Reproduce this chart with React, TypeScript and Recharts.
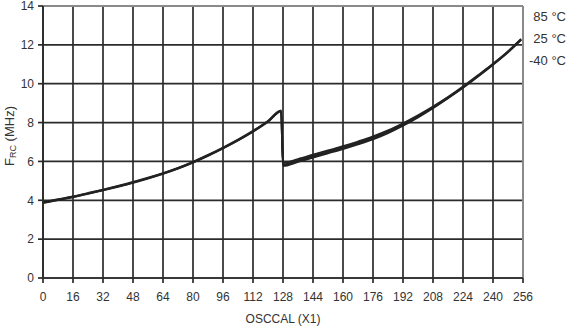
import React from "react";
import {
  CartesianGrid,
  Line,
  LineChart,
  ReferenceLine,
  XAxis,
  YAxis,
} from "recharts";

const osccal = [
  0, 8, 16, 24, 32, 40, 48, 56, 64, 72, 80, 88, 96, 104, 112, 120, 127,
  128, 136, 144, 152, 160, 168, 176, 184, 192, 200, 208, 216, 224, 232, 240, 248, 255,
];

const freq85 = [
  3.86, 4.01, 4.16, 4.33, 4.51, 4.7, 4.9, 5.12, 5.36, 5.63, 5.94, 6.29, 6.67, 7.08, 7.53, 8.04, 8.58,
  5.77, 5.98, 6.2, 6.42, 6.64, 6.88, 7.14, 7.46, 7.84, 8.27, 8.74, 9.25, 9.79, 10.37, 10.98, 11.62, 12.26,
];

const freq25 = [
  3.88, 4.03, 4.18, 4.35, 4.53, 4.72, 4.92, 5.14, 5.38, 5.65, 5.96, 6.31, 6.69, 7.1, 7.55, 8.06, 8.6,
  5.84, 6.05, 6.27, 6.49, 6.71, 6.95, 7.21, 7.53, 7.9, 8.32, 8.78, 9.28, 9.82, 10.4, 11.0, 11.64, 12.28,
];

const freqMinus40 = [
  3.9, 4.05, 4.2, 4.37, 4.55, 4.74, 4.94, 5.16, 5.4, 5.67, 5.98, 6.33, 6.71, 7.12, 7.57, 8.08, 8.62,
  5.92, 6.12, 6.34, 6.56, 6.78, 7.02, 7.28, 7.59, 7.96, 8.37, 8.82, 9.31, 9.85, 10.43, 11.02, 11.66, 12.3,
];

const xTicks = [0, 16, 32, 48, 64, 80, 96, 112, 128, 144, 160, 176, 192, 208, 224, 240, 256];
const yTicks = [0, 2, 4, 6, 8, 10, 12, 14];
const tempLabels = ["85 °C", "25 °C", "-40 °C"];

const data = osccal.map((x, i) => ({
  x,
  t85: freq85[i],
  t25: freq25[i],
  tm40: freqMinus40[i],
}));

const font = "'Liberation Sans', Arial, sans-serif";
const dark = "#2b2b2b";

const YLabel = () => (
  <text
    x={14}
    y={136}
    transform="rotate(-90 14 136)"
    textAnchor="middle"
    fontSize={13}
    fontFamily={font}
    fill="#333"
  >
    F<tspan fontSize={9} dy={2}>RC</tspan>
    <tspan dy={-2}> (MHz)</tspan>
  </text>
);

export default function App() {
  return (
    <div style={{ position: "absolute", left: 0, top: 0, width: 570, height: 328, background: "#fff" }}>
      <LineChart
        width={570}
        height={328}
        data={data}
        margin={{ top: 6, right: 47, bottom: 0, left: 0 }}
      >
        <CartesianGrid stroke={dark} strokeWidth={1.7} />
        <XAxis
          dataKey="x"
          type="number"
          domain={[0, 256]}
          ticks={xTicks}
          interval={0}
          height={50}
          tickSize={5}
          tickMargin={9}
          stroke={dark}
          strokeWidth={1.7}
          tick={{ fill: "#333", fontSize: 12, fontFamily: font }}
          label={{
            value: "OSCCAL (X1)",
            position: "insideBottom",
            offset: 5,
            fill: "#333",
            fontSize: 12,
            fontFamily: font,
          }}
        />
        <YAxis
          type="number"
          domain={[0, 14]}
          ticks={yTicks}
          interval={0}
          width={43}
          tickSize={5}
          tickMargin={4}
          stroke={dark}
          strokeWidth={1.7}
          tick={{ fill: "#333", fontSize: 12, fontFamily: font }}
          label={<YLabel />}
        />
        <ReferenceLine y={14} stroke="#8a8a8a" strokeWidth={2} />
        <ReferenceLine x={256} stroke="#8a8a8a" strokeWidth={2} />
        <Line dataKey="t85" type="monotone" stroke="#222" strokeWidth={2} dot={false} isAnimationActive={false} />
        <Line dataKey="t25" type="monotone" stroke="#222" strokeWidth={2} dot={false} isAnimationActive={false} />
        <Line dataKey="tm40" type="monotone" stroke="#222" strokeWidth={2} dot={false} isAnimationActive={false} />
      </LineChart>
      {tempLabels.map((t, i) => (
        <div
          key={t}
          style={{
            position: "absolute",
            right: 4,
            top: 9 + i * 22,
            fontFamily: font,
            fontSize: 13,
            color: "#333",
            lineHeight: "16px",
          }}
        >
          {t}
        </div>
      ))}
    </div>
  );
}
